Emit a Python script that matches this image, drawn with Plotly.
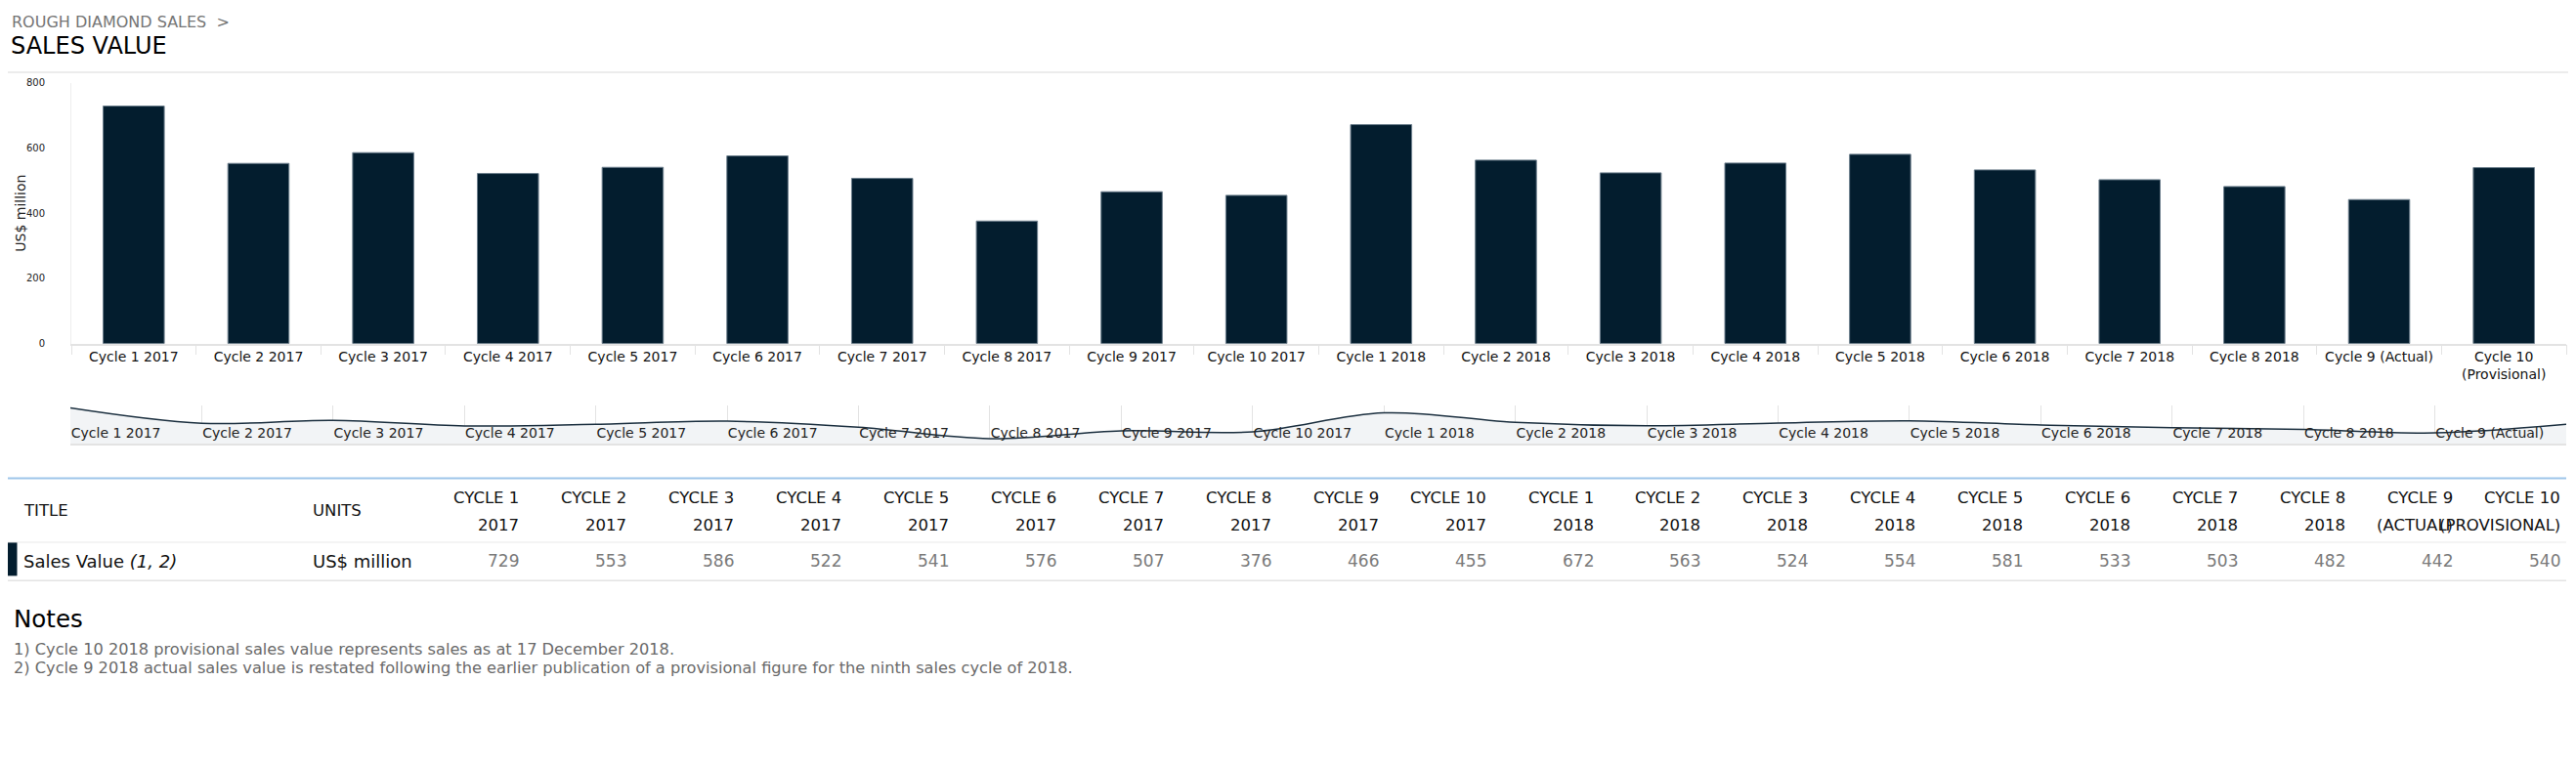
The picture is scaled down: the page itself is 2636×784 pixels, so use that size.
import plotly.graph_objects as go

# ---------------- data ----------------
categories = [
    "Cycle 1 2017", "Cycle 2 2017", "Cycle 3 2017", "Cycle 4 2017", "Cycle 5 2017",
    "Cycle 6 2017", "Cycle 7 2017", "Cycle 8 2017", "Cycle 9 2017", "Cycle 10 2017",
    "Cycle 1 2018", "Cycle 2 2018", "Cycle 3 2018", "Cycle 4 2018", "Cycle 5 2018",
    "Cycle 6 2018", "Cycle 7 2018", "Cycle 8 2018", "Cycle 9 (Actual)",
    "Cycle 10<br>(Provisional)",
]
sales_value = [729, 553, 586, 522, 541, 576, 507, 376, 466, 455,
               672, 563, 524, 554, 581, 533, 503, 482, 442, 540]
header_cycle = ["CYCLE 1", "CYCLE 2", "CYCLE 3", "CYCLE 4", "CYCLE 5", "CYCLE 6",
                "CYCLE 7", "CYCLE 8", "CYCLE 9", "CYCLE 10", "CYCLE 1", "CYCLE 2",
                "CYCLE 3", "CYCLE 4", "CYCLE 5", "CYCLE 6", "CYCLE 7", "CYCLE 8",
                "CYCLE 9", "CYCLE 10"]
header_period = ["2017"] * 10 + ["2018"] * 8 + ["(ACTUAL)", "(PROVISIONAL)"]
nav_labels = categories[:-1]
y_ticks = [0, 200, 400, 600, 800]
series_title = "Sales Value <i>(1, 2)</i>"
units = "US$ million"
breadcrumb = "ROUGH DIAMOND SALES  &gt;"
page_title = "SALES VALUE"
notes_title = "Notes"
notes = [
    "1) Cycle 10 2018 provisional sales value represents sales as at 17 December 2018.",
    "2) Cycle 9 2018 actual sales value is restated following the earlier publication of a provisional figure for the ninth sales cycle of 2018.",
]

# ---------------- layout helpers ----------------
PAGE_W, PAGE_H = 2636, 784
OFF = 8                      # default body margin of the page
W, H = PAGE_W - 2 * OFF, PAGE_H - 2 * OFF
FONT = "DejaVu Sans, Liberation Sans, sans-serif"
BAR = "#031d2e"


def fx(p):
    return (p - OFF) / W


def fy(p):
    return 1 - (p - OFF) / H


fig = go.Figure()

fig.add_trace(go.Bar(
    x=categories, y=sales_value, width=0.49,
    marker=dict(color=BAR, line=dict(color="#6d7f8d", width=1)),
    xaxis="x", yaxis="y", showlegend=False,
))

fig.add_trace(go.Scatter(
    x=categories, y=sales_value, mode="lines",
    line=dict(shape="spline", color="#1b2f3f", width=1.5),
    fill="tozeroy", fillcolor="#f2f4f6",
    xaxis="x2", yaxis="y2", showlegend=False, hoverinfo="skip",
))

annotations = []
shapes = []

# header texts
annotations.append(dict(text=breadcrumb, x=fx(10), y=fy(17), xref="paper", yref="paper",
                        xanchor="left", yanchor="middle", showarrow=False,
                        font=dict(family=FONT, size=16, color="#757575")))
annotations.append(dict(text=page_title, x=fx(9), y=fy(42), xref="paper", yref="paper",
                        xanchor="left", yanchor="middle", showarrow=False,
                        font=dict(family=FONT, size=24, color="#000000")))
shapes.append(dict(type="line", xref="paper", yref="paper", x0=0, x1=1, y0=fy(69), y1=fy(69),
                   line=dict(color="#e6e6e6", width=1.5)))

# y axis title
annotations.append(dict(text=units, x=fx(21), y=fy(216), xref="paper", yref="paper",
                        xanchor="center", yanchor="middle", textangle=-90, showarrow=False,
                        font=dict(family=FONT, size=14, color="#222222")))

# ---------------- table ----------------
shapes.append(dict(type="line", xref="paper", yref="paper", x0=fx(8), x1=fx(2626),
                   y0=fy(491), y1=fy(491), line=dict(color="#9ec5ea", width=2)))
shapes.append(dict(type="line", xref="paper", yref="paper", x0=fx(8), x1=fx(2626),
                   y0=fy(557.5), y1=fy(557.5), line=dict(color="#f0f0f0", width=1.5)))
shapes.append(dict(type="line", xref="paper", yref="paper", x0=fx(8), x1=fx(2626),
                   y0=fy(597.5), y1=fy(597.5), line=dict(color="#e3e3e3", width=1.5)))
shapes.append(dict(type="rect", xref="paper", yref="paper", x0=fx(8), x1=fx(17.5),
                   y0=fy(592.5), y1=fy(558), fillcolor=BAR, line=dict(width=0)))

head_font = dict(family=FONT, size=16.5, color="#111111")
annotations.append(dict(text="TITLE", x=fx(22), y=fy(525), xref="paper", yref="paper",
                        xanchor="left", yanchor="middle", showarrow=False, font=head_font))
annotations.append(dict(text="UNITS", x=fx(318), y=fy(525), xref="paper", yref="paper",
                        xanchor="left", yanchor="middle", showarrow=False, font=head_font))
annotations.append(dict(text=series_title, x=fx(22), y=fy(577), xref="paper", yref="paper",
                        xanchor="left", yanchor="middle", showarrow=False,
                        font=dict(family=FONT, size=18, color="#111111")))
annotations.append(dict(text=units, x=fx(318), y=fy(577), xref="paper", yref="paper",
                        xanchor="left", yanchor="middle", showarrow=False,
                        font=dict(family=FONT, size=18, color="#111111")))

col_right0, col_step = 533, 109.95
for i, (c1, c2, v) in enumerate(zip(header_cycle, header_period, sales_value)):
    xr = fx(col_right0 + i * col_step)
    annotations.append(dict(text=c1, x=xr, y=fy(511), xref="paper", yref="paper",
                            xanchor="right", yanchor="middle", showarrow=False, font=head_font))
    annotations.append(dict(text=c2, x=xr, y=fy(540), xref="paper", yref="paper",
                            xanchor="right", yanchor="middle", showarrow=False, font=head_font))
    annotations.append(dict(text=str(v), x=xr, y=fy(577), xref="paper", yref="paper",
                            xanchor="right", yanchor="middle", showarrow=False,
                            font=dict(family=FONT, size=17, color="#7a7a7a")))

# ---------------- notes ----------------
annotations.append(dict(text=notes_title, x=fx(12), y=fy(637), xref="paper", yref="paper",
                        xanchor="left", yanchor="middle", showarrow=False,
                        font=dict(family=FONT, size=24.5, color="#000000")))
for k, note in enumerate(notes):
    annotations.append(dict(text=note, x=fx(12), y=fy(668.5 + 19.5 * k), xref="paper", yref="paper",
                            xanchor="left", yanchor="middle", showarrow=False,
                            font=dict(family=FONT, size=16.2, color="#6a6a6a")))

fig.update_layout(
    width=W, height=H, autosize=False,
    margin=dict(l=0, r=0, t=0, b=0),
    paper_bgcolor="white", plot_bgcolor="white",
    font=dict(family=FONT, color="#222222"),
    bargap=0.51,
    xaxis=dict(
        domain=[fx(73), fx(2626)], anchor="y", type="category",
        showline=True, linecolor="#e3e3e3", linewidth=1.5,
        ticks="outside", tickson="boundaries", ticklen=10, tickcolor="#e3e3e3",
        tickfont=dict(family=FONT, size=14, color="#111111"),
        ticklabelstandoff=0, showgrid=False, zeroline=False,
    ),
    yaxis=dict(
        domain=[fy(351), fy(80)], anchor="x", range=[0, 800],
        tickvals=y_ticks, showgrid=False, zeroline=False,
        showline=True, linecolor="#eeeeee", linewidth=1,
        tickfont=dict(family=FONT, size=10, color="#222222"),
        ticklabelstandoff=24,
    ),
    xaxis2=dict(
        domain=[fx(72), fx(2626)], anchor="y2", type="category",
        range=[0, len(categories) - 1],
        tickvals=nav_labels, ticktext=nav_labels,
        ticklabelposition="inside right",
        tickfont=dict(family=FONT, size=14, color="#222222"),
        showgrid=True, gridcolor="#e3e3e3", gridwidth=1,
        showline=True, linecolor="#e3e3e3", linewidth=1.5,
        zeroline=False, ticks="",
    ),
    yaxis2=dict(
        domain=[fy(455), fy(415)], anchor="x2", range=[320, 760],
        visible=False, showgrid=False, zeroline=False,
    ),
    annotations=annotations,
    shapes=shapes,
)

fig.write_html("out.html")
